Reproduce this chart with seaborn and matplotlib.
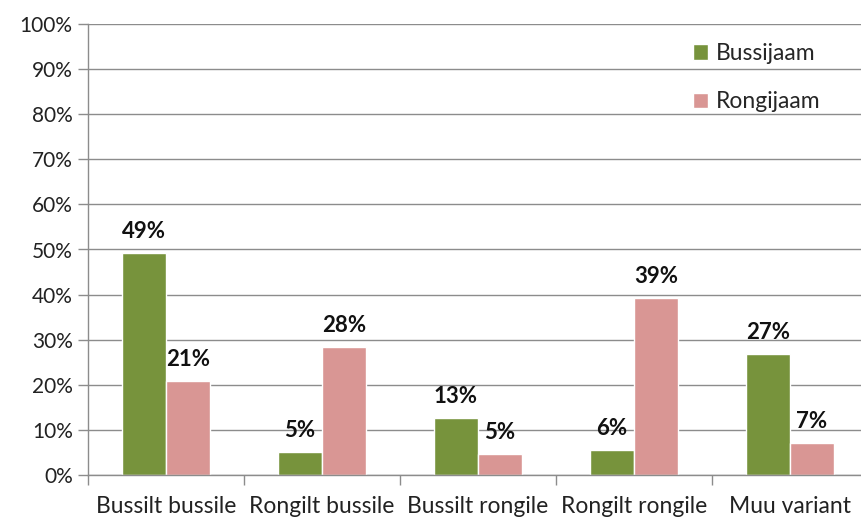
import matplotlib
matplotlib.use('Agg')
import matplotlib.pyplot as plt
import numpy as np
import pandas as pd
import seaborn as sns

categories = ['Bussilt bussile', 'Rongilt bussile', 'Bussilt rongile',
              'Rongilt rongile', 'Muu variant']
bussijaam = [49.3, 5.0, 12.7, 5.6, 26.9]
rongijaam = [20.8, 28.4, 4.6, 39.3, 7.1]
series = ['Bussijaam', 'Rongijaam']
colors = ['#77933C', '#D99694']

df = pd.DataFrame({
    'kategooria': categories * 2,
    'osakaal': bussijaam + rongijaam,
    'jaam': [series[0]] * len(categories) + [series[1]] * len(categories),
})

sns.set_style('white')
plt.rcParams['font.family'] = ['Lato', 'DejaVu Sans']

fig = plt.figure(figsize=(8.61, 5.18), dpi=100)
ax = fig.add_axes([88 / 861, 43 / 518, 780 / 861, 451 / 518])

sns.barplot(data=df, x='kategooria', y='osakaal', hue='jaam',
            palette=colors, width=0.564, gap=0, saturation=1,
            ax=ax, legend=True)

for cont in ax.containers:
    vals = [b.get_height() for b in cont]
    ax.bar_label(cont, labels=[f'{v:.0f}%' for v in vals], padding=8,
                 fontsize=16, fontweight='bold', color='#111111')

gray = '#8c8c8c'
ax.set_ylim(0, 100)
ax.set_xlim(-0.5, 4.5)
ax.set_yticks(np.arange(0, 101, 10))
ax.set_yticklabels([f'{t}%' for t in range(0, 101, 10)])
ax.yaxis.grid(True, color=gray, linewidth=1)
ax.set_axisbelow(True)
ax.tick_params(axis='y', length=7, width=1, color=gray, labelsize=15,
               labelcolor='#222222', pad=4, left=True)
ax.set_xticks(range(len(categories)))
ax.set_xticklabels(categories)
ax.tick_params(axis='x', length=0, labelsize=16.5, labelcolor='#222222', pad=15)
ax.set_xticks(np.arange(-0.5, 5, 1), minor=True)
ax.tick_params(axis='x', which='minor', length=7, width=1, color=gray,
               bottom=True)
ax.set_xlabel('')
ax.set_ylabel('')

for s in ['top', 'right']:
    ax.spines[s].set_visible(False)
for s in ['left', 'bottom']:
    ax.spines[s].set_color(gray)
    ax.spines[s].set_linewidth(1)

ax.legend(loc='upper left', bbox_to_anchor=(0.776, 0.958), frameon=False,
          fontsize=16.5, labelspacing=1.2, handlelength=0.65, handleheight=0.65,
          handletextpad=0.35, borderpad=0, borderaxespad=0, title=None)

fig.savefig('out.png', dpi=100)
